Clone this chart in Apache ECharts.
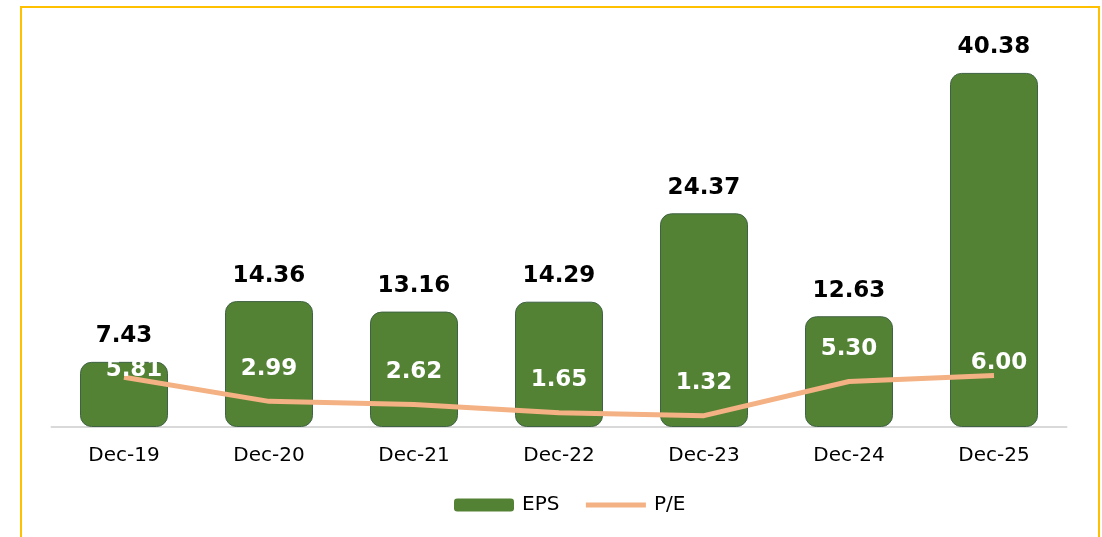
<!DOCTYPE html>
<html>
<head>
<meta charset="utf-8">
<script src="https://cdn.jsdelivr.net/npm/echarts@6/dist/echarts.min.js"></script>
<style>
  html, body { margin: 0; padding: 0; background: #fff; }
  #main { width: 1102px; height: 537px; }
  #frame {
    position: absolute; left: 20px; top: 6px; width: 1076px; height: 600px;
    border: 2px solid #FFC000; border-bottom: none; pointer-events: none;
  }
</style>
</head>
<body>
<div id="main"></div>
<div id="frame"></div>
<script>
var categories = ['Dec-19', 'Dec-20', 'Dec-21', 'Dec-22', 'Dec-23', 'Dec-24', 'Dec-25'];
var epsValues = [7.43, 14.36, 13.16, 14.29, 24.37, 12.63, 40.38];
var peValues = [5.81, 2.99, 2.62, 1.65, 1.32, 5.30, 6.00];

var font = 'DejaVu Sans, Verdana, sans-serif';

// 两个标签手动挪过位置
var peData = peValues.map(function (v, i) {
    var item = { value: v };
    if (i === 0) item.label = { offset: [10, 25] };
    if (i === 6) item.label = { offset: [5, 20] };
    return item;
});

var chart = echarts.init(document.getElementById('main'));
var option = {
    animation: false,
    grid: { left: 51.5, right: 35.5, top: 32.4, bottom: 110 },
    legend: {
        bottom: 17,
        left: 449,
        itemWidth: 60,
        itemHeight: 13,
        itemGap: 24,
        textStyle: { fontFamily: font, fontSize: 20, color: '#000', padding: [0, 0, 0, 3] },
        data: [
            { name: 'EPS', itemStyle: { borderWidth: 0 } },
            { name: 'P/E', lineStyle: { width: 5 }, itemStyle: { opacity: 0 } }
        ]
    },
    xAxis: {
        type: 'category',
        data: categories,
        axisLine: { lineStyle: { color: '#d9d9d9', width: 2 } },
        axisTick: { show: false },
        axisLabel: { fontFamily: font, fontSize: 20, color: '#000', margin: 19 }
    },
    yAxis: [
        { type: 'value', min: 0, max: 45, show: false, splitLine: { show: false } },
        { type: 'value', min: 0, max: 46, show: false, splitLine: { show: false } }
    ],
    series: [
        {
            name: 'EPS',
            type: 'bar',
            data: epsValues,
            barWidth: 88,
            itemStyle: {
                color: '#548235',
                borderColor: '#3f6244',
                borderWidth: 1,
                borderRadius: 11
            },
            label: {
                show: true,
                position: 'top',
                distance: 14,
                fontFamily: font,
                fontSize: 23,
                fontWeight: 'bold',
                color: '#000',
                formatter: function (p) { return p.value.toFixed(2); }
            }
        },
        {
            name: 'P/E',
            type: 'line',
            yAxisIndex: 1,
            data: peData,
            symbol: 'circle',
            symbolSize: 2,
            lineStyle: { color: '#F4B183', width: 5 },
            itemStyle: { color: 'rgba(0,0,0,0)' },
            label: {
                show: true,
                position: 'top',
                distance: 20,
                fontFamily: font,
                fontSize: 23,
                fontWeight: 'bold',
                color: '#fff',
                formatter: function (p) { return p.value.toFixed(2); }
            }
        }
    ]
};
chart.setOption(option);
</script>
</body>
</html>
